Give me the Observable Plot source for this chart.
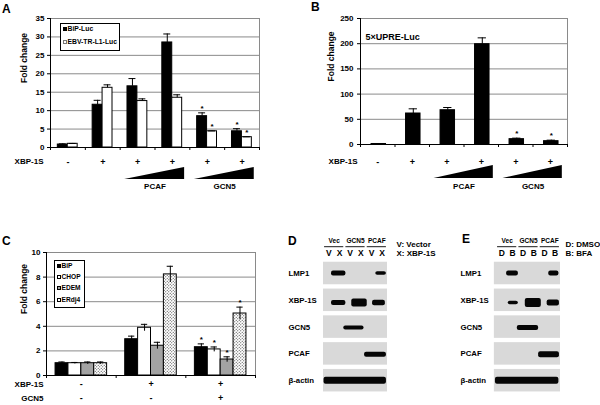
<!DOCTYPE html>
<html><head><meta charset="utf-8">
<script src="https://cdn.jsdelivr.net/npm/d3@7"></script>
<script src="https://cdn.jsdelivr.net/npm/@observablehq/plot@0.6"></script>
<style>
html,body{margin:0;padding:0;background:#fff;}
#fig{position:relative;width:600px;height:405px;overflow:hidden;background:#fff;font-family:"Liberation Sans",Arial,Helvetica,sans-serif;font-weight:bold;color:#000;}
#fig > svg{position:absolute;}
.letter{position:absolute;font-size:12px;line-height:12px;}
.legend{position:absolute;border:1px solid #000;background:#fff;box-sizing:border-box;}
.legend div{position:absolute;white-space:nowrap;line-height:1;}
.sw{display:inline-block;width:4px;height:4px;box-sizing:border-box;border:0.8px solid #000;margin-right:1px;vertical-align:0;}
</style></head><body>
<svg width="0" height="0" style="position:absolute"><defs>
<pattern id="dots" width="3" height="3" patternUnits="userSpaceOnUse"><rect width="3" height="3" fill="#fff"/><circle cx="0.75" cy="0.75" r="0.55" fill="#333"/><circle cx="2.25" cy="2.25" r="0.55" fill="#333"/></pattern>
</defs></svg>
<div id="fig"></div>
<script>
const FONT = '"Liberation Sans", Arial, Helvetica, sans-serif';

// ---------- Panel A ----------
const xbpA = ["-", "+", "+", "+", "+", "+"];
const seriesA = ["BiP-Luc", "EBV-TR-L1-Luc"];
const bipA = [0.8, 11.6, 16.6, 28.5, 8.5, 4.4];
const bipErrA = [0.2, 1.2, 2.1, 2.3, 0.9, 0.7];
const ebvA = [1.0, 16.2, 12.6, 13.5, 4.4, 2.8];
const ebvErrA = [0.1, 0.8, 0.6, 0.8, 0.1, 0.1];
const sigA = [false, false, false, false, true, true];
const yTicksA = [0, 5, 10, 15, 20, 25, 30, 35];
const doseLabelsA = ["PCAF", "GCN5"];
const doseGroupsA = [[2, 3], [4, 5]];

// ---------- Panel B ----------
const xbpB = ["-", "+", "+", "+", "+", "+"];
const seriesB = ["5×UPRE-Luc"];
const upreB = [1.0, 61.5, 68.0, 199.0, 10.6, 6.6];
const upreErrB = [0.3, 9.3, 5.4, 12.6, 2.0, 2.0];
const sigB = [false, false, false, false, true, true];
const yTicksB = [0, 50, 100, 150, 200, 250];
const doseLabelsB = ["PCAF", "GCN5"];
const doseGroupsB = [[2, 3], [4, 5]];

// ---------- Panel C ----------
const xbpC = ["-", "+", "+"];
const gcn5C = ["-", "-", "+"];
const seriesC = ["BiP", "CHOP", "EDEM", "ERdj4"];
const bipC = [1.0, 2.95, 2.3];
const bipErrC = [0.1, 0.25, 0.27];
const chopC = [1.0, 3.88, 2.12];
const chopErrC = [0.06, 0.28, 0.2];
const edemC = [1.0, 2.42, 1.3];
const edemErrC = [0.1, 0.28, 0.22];
const erdjC = [1.0, 8.22, 5.04];
const erdjErrC = [0.1, 0.66, 0.52];
const sigC = [false, false, true];
const yTicksC = [0, 2, 4, 6, 8, 10];

// ---------- Panels D / E (RT-PCR gels) ----------
const gelRows = ["LMP1", "XBP-1S", "GCN5", "PCAF", "β-actin"];
const gelGroups = ["Vec", "GCN5", "PCAF"];
const lanesD = ["V", "X", "V", "X", "V", "X"];
const notesD = ["V: Vector", "X: XBP-1S"];
const bandRowD = [0, 0, 1, 1, 1, 2, 3, 4];
const bandFromD = [0.75, 4.9, 0.75, 2.65, 4.6, 1.9, 3.85, 0.05];
const bandToD = [2.1, 5.9, 2.1, 4.1, 5.8, 3.8, 5.9, 5.9];
const bandWeightD = [5, 3.5, 5, 8, 5.5, 4, 5, 7];
const lanesE = ["D", "B", "D", "B", "D", "B"];
const notesE = ["D: DMSO", "B: BFA"];
const bandRowE = [0, 0, 1, 1, 1, 2, 3, 4];
const bandFromE = [0.95, 4.9, 1.1, 2.7, 4.75, 1.95, 3.95, -0.1];
const bandToE = [2.05, 5.85, 2.05, 4.2, 5.9, 3.95, 5.9, 5.85];
const bandWeightE = [5, 5, 3.5, 9, 6, 5, 6, 7];
const bandShift = [0, 0.1, 0.03, 0.03, 0];

const fig = document.getElementById("fig");
const baseStyle = {fontFamily: FONT, fontSize: "8px", fontWeight: "bold", background: "transparent", color: "#000", overflow: "visible"};
function place(el, left, top) { el.style.position = "absolute"; el.style.left = left + "px"; el.style.top = top + "px"; fig.appendChild(el); }

function barPanel(o) {
  const n = o.values[0].length;
  const rows = [];
  o.series.forEach((s, k) => o.values[k].forEach((v, g) => rows.push({g, k, s, v, e: o.errs[k][g], sig: o.sig[g]})));
  const cx = d => d.g + o.start + (d.k + 0.5) * o.bw;
  const ymax = o.ticks[o.ticks.length - 1];
  const marks = [
    Plot.gridY(o.ticks.slice(1, -1), {stroke: "#8a8a8a", strokeOpacity: 1}),
    Plot.ruleY([ymax], {stroke: "#8a8a8a"}),
    Plot.ruleX([n], {stroke: "#8a8a8a"}),
    Plot.rectY(rows, {x1: d => d.g + o.start + d.k * o.bw, x2: d => d.g + o.start + (d.k + 1) * o.bw, y1: 0, y2: "v", fill: "s", stroke: "#000", strokeWidth: 1}),
    Plot.ruleX(rows, {x: cx, y1: d => o.both ? d.v - d.e : d.v, y2: d => d.v + d.e, stroke: "#000", strokeWidth: 1}),
    Plot.ruleY(rows, {y: d => d.v + d.e, x1: d => cx(d) - o.cap, x2: d => cx(d) + o.cap, stroke: "#000", strokeWidth: 1}),
    Plot.text(rows.filter(d => d.sig), {x: cx, y: d => d.v + d.e, text: () => "*", lineAnchor: "bottom", dy: o.starDy, fontSize: 8}),
    Plot.axisY({ticks: o.ticks, tickSize: 3, tickPadding: o.tickPadding, fontSize: 8, label: null}),
    Plot.text(["Fold change"], {text: d => d, frameAnchor: "left", dx: -o.labelOffset, rotate: -90, fontSize: 8.5}),
    Plot.axisX({ticks: d3.range(n + 1), tickFormat: () => "", tickSize: 3, label: null}),
    Plot.ruleY([0], {stroke: "#000"}),
    Plot.ruleX([0], {stroke: "#000"}),
    ...(o.extra || [])
  ];
  return Plot.plot({
    width: o.w, height: o.h, marginLeft: o.ml, marginRight: o.mr, marginTop: o.mt, marginBottom: o.mb,
    x: {domain: [0, n]}, y: {domain: [0, ymax]},
    color: {domain: o.series, range: o.colors},
    style: baseStyle, marks
  });
}

function dosePlot(o) {
  const n = o.xbp.length;
  const signs = o.xbp.map((t, g) => ({g, t}));
  const wedge = o.groups.flatMap((gr, j) => [{j, x: gr[0] + 0.13, h: 0}, {j, x: gr[gr.length - 1] + 1 - 0.15, h: 1}]);
  const labs = o.groups.map((gr, j) => ({x: (gr[0] + gr[gr.length - 1] + 1) / 2, t: o.labels[j]}));
  return Plot.plot({
    width: o.w, height: o.h, marginLeft: o.ml, marginRight: o.mr, marginTop: o.mt, marginBottom: o.mb,
    x: {domain: [0, n], axis: null}, y: {domain: [0, 1], axis: null}, style: baseStyle,
    marks: [
      Plot.text(signs, {x: d => d.g + 0.5, text: "t", frameAnchor: "top", dy: o.rowDy, fontSize: 9}),
      Plot.text(["XBP-1S"], {text: d => d, frameAnchor: "top-left", dx: o.labelDx, dy: o.rowDy, textAnchor: "end", fontSize: 8}),
      Plot.areaY(wedge, {x: "x", y1: 0, y2: "h", z: "j", fill: "#000"}),
      Plot.text(labs, {x: "x", text: "t", frameAnchor: "bottom", dy: o.labDy, fontSize: 8})
    ]
  });
}

// Panel A
place(barPanel({
  series: seriesA, values: [bipA, ebvA], errs: [bipErrA, ebvErrA], sig: sigA, ticks: yTicksA,
  colors: ["#000", "#fff"], start: 0.21, bw: 0.285, cap: 0.1, both: false, starDy: -2,
  w: 300, h: 152, ml: 50, mr: 41, mt: 18, mb: 5, labelOffset: 26, tickPadding: 3
}), 0, 0);
place(dosePlot({xbp: xbpA, labels: doseLabelsA, groups: doseGroupsA, w: 300, h: 48, ml: 50, mr: 41, mt: 15, mb: 21, rowDy: -9, labelDx: -7, labDy: 9}), 0, 152);

// Panel B
place(barPanel({
  series: seriesB, values: [upreB], errs: [upreErrB], sig: sigB, ticks: yTicksB,
  colors: ["#000"], start: 0.32, bw: 0.42, cap: 0.12, both: false, starDy: -2,
  w: 300, h: 149, ml: 60, mr: 33, mt: 18, mb: 5, labelOffset: 29, tickPadding: 4,
  extra: [Plot.text(seriesB, {text: d => d, frameAnchor: "top-left", dx: 5, dy: 15, textAnchor: "start", fontSize: 9})]
}), 300, 0);
place(dosePlot({xbp: xbpB, labels: doseLabelsB, groups: doseGroupsB, w: 300, h: 51, ml: 60, mr: 33, mt: 16, mb: 22, rowDy: -7, labelDx: -3, labDy: 10}), 300, 149);

// Panel C
const signsC = xbpC.map((t, g) => ({g, t, u: gcn5C[g]}));
place(barPanel({
  series: seriesC, values: [bipC, chopC, edemC, erdjC], errs: [bipErrC, chopErrC, edemErrC, erdjErrC], sig: sigC, ticks: yTicksC,
  colors: ["#000", "#fff", "#a3a3a3", "url(#dots)"], start: 0.13, bw: 0.185, cap: 0.045, both: true, starDy: -2,
  w: 300, h: 165, ml: 46, mr: 45, mt: 12, mb: 30, labelOffset: 22, tickPadding: 3,
  extra: [
    Plot.text(signsC, {x: d => d.g + 0.5, text: "t", frameAnchor: "bottom", dy: 11, fontSize: 9}),
    Plot.text(signsC, {x: d => d.g + 0.5, text: "u", frameAnchor: "bottom", dy: 25, fontSize: 9}),
    Plot.text(["XBP-1S"], {text: d => d, frameAnchor: "bottom-left", dx: -3, dy: 11, textAnchor: "end", fontSize: 8}),
    Plot.text(["GCN5"], {text: d => d, frameAnchor: "bottom-left", dx: -3, dy: 25, textAnchor: "end", fontSize: 8})
  ]
}), 0, 240);

function gelPanel(o) {
  const rowPx = 26.8;
  const boxes = gelRows.map((r, i) => ({i}));
  const bands = o.bandRow.map((r, k) => ({r, x1: o.bandFrom[k], x2: o.bandTo[k], w: o.bandWeight[k]}));
  return Plot.plot({
    width: o.w, height: 172, marginLeft: o.ml, marginRight: o.mr, marginTop: 31.6, marginBottom: 6.4,
    x: {domain: [0, 6], axis: null}, y: {domain: [-0.5, 4.5], reverse: true, axis: null}, style: baseStyle,
    marks: [
      Plot.rect(boxes, {x1: o.boxFrom, x2: o.boxTo, y1: d => d.i - 0.42, y2: d => d.i + 0.42, fill: "#d9d9d9"}),
      Plot.rect(bands, {x1: "x1", x2: "x2", y1: d => d.r + bandShift[d.r] - d.w / 2 / rowPx, y2: d => d.r + bandShift[d.r] + d.w / 2 / rowPx, fill: "#050505", rx: 2}),
      Plot.text(gelRows, {y: (d, i) => i, text: d => d, frameAnchor: "left", dx: o.labelDx, textAnchor: "start", fontSize: 7.8}),
      Plot.text(gelGroups, {x: (d, i) => 2 * i + 1, y: -1.2, text: d => d, fontSize: 6.5}),
      Plot.ruleY(gelGroups, {x1: (d, i) => 2 * i + 0.1, x2: (d, i) => 2 * i + 1.9, y: -1.0, stroke: "#000", strokeWidth: 0.9}),
      Plot.text(o.lanes, {x: (d, i) => i + 0.5, y: -0.75, text: d => d, fontSize: 8.5}),
      Plot.text(o.notes, {y: (d, i) => i ? -0.74 : -1.07, text: d => d, frameAnchor: "right", dx: o.noteDx, textAnchor: "start", fontSize: 8})
    ]
  });
}

place(gelPanel({lanes: lanesD, notes: notesD, bandRow: bandRowD, bandFrom: bandFromD, bandTo: bandToD, bandWeight: bandWeightD,
  boxFrom: 0, boxTo: 6, w: 165, ml: 38, mr: 63, labelDx: -35, noteDx: 9}), 285, 228);
place(gelPanel({lanes: lanesE, notes: notesE, bandRow: bandRowE, bandFrom: bandFromE, bandTo: bandToE, bandWeight: bandWeightE,
  boxFrom: -0.2, boxTo: 6, w: 145, ml: 41, mr: 40, labelDx: -36, noteDx: 5}), 455, 228);

// Panel letters
[["A", 2, 3.4], ["B", 311, 1.1], ["C", 2, 235.4], ["D", 288, 235.4], ["E", 462, 233.4]].forEach(([t, x, y]) => {
  const d = document.createElement("div"); d.className = "letter"; d.textContent = t; place(d, x, y);
});

// Legends
function legend(entries, swatches, left, top, width, height, tops, fs) {
  const box = document.createElement("div"); box.className = "legend";
  box.style.width = width + "px"; box.style.height = height + "px";
  entries.forEach((t, i) => {
    const e = document.createElement("div");
    e.style.left = "1.5px"; e.style.top = tops[i] + "px"; e.style.fontSize = fs + "px";
    const s = document.createElement("span"); s.className = "sw"; s.style.cssText += swatches[i];
    e.appendChild(s); e.appendChild(document.createTextNode(t)); box.appendChild(e);
  });
  place(box, left, top);
}
legend(seriesA, ["background:#000;", "background:#fff;border-color:#777;"], 60, 23, 60, 28, [2.2, 15.4], 6.8);
legend(seriesC, ["background:#000;", "background:#fff;", "background:#a3a3a3;", "background:#fff radial-gradient(#333 35%, transparent 40%) 0 0/1.5px 1.5px;"], 54, 260, 31, 48, [1.6, 12.6, 24.4, 36.3], 6.6);
</script></body></html>
